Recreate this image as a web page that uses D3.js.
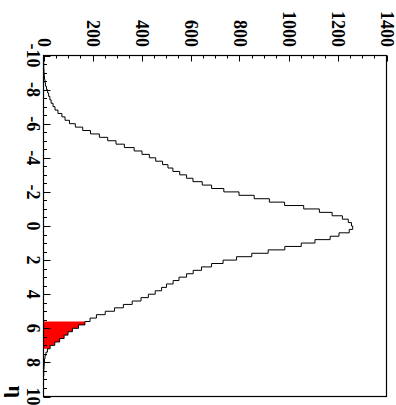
<!DOCTYPE html>
<html>
<head>
<meta charset="utf-8">
<script src="https://cdn.jsdelivr.net/npm/d3@7"></script>
<style>
  body { margin: 0; background: #fff; }
  svg { display: block; }
  text { font-family: "Liberation Serif", "Times New Roman", serif; font-weight: bold; }
</style>
</head>
<body>
<div id="chart"></div>
<script>
// eta histogram, 100 bins from -10 to 10
const etaMin = -10;
const etaMax = 10;
const counts = [
  0, 0, 1, 1, 2, 3, 4, 6, 8, 12,
  17, 21, 26, 31, 39, 47, 59, 75, 88, 106,
  130, 160, 192, 228, 262, 296, 330, 370, 402, 432,
  458, 486, 508, 528, 556, 584, 610, 648, 686, 736,
  798, 860, 922, 984, 1062, 1126, 1178, 1220, 1244, 1257,
  1262, 1248, 1206, 1170, 1108, 1052, 985, 917, 850, 788,
  733, 686, 645, 611, 584, 553, 529, 502, 482, 456,
  428, 398, 362, 326, 290, 252, 216, 190, 169, 143,
  118, 100, 84, 66, 46, 27, 16, 10, 6, 4,
  3, 2, 1, 1, 0, 0, 0, 0, 0, 0
];
// selected region (red), starting at eta = 5.6
const selectedStart = 5.6;
const selectedCounts = [169, 143, 118, 100, 84, 66, 46, 27];

const countTicks = [0, 200, 400, 600, 800, 1000, 1200, 1400];
const etaTicks = [-10, -8, -6, -4, -2, 0, 2, 4, 6, 8, 10];
const axisTitle = "η";

const W = 396, H = 405;
const frame = { left: 43.5, right: 386.5, top: 55.5, bottom: 396.5 };

const svg = d3.select("#chart").append("svg")
    .attr("width", W).attr("height", H);

// chart is drawn rotated: counts run left->right, eta runs top->bottom
const x = d3.scaleLinear().domain([0, 1400]).range([frame.left, frame.right]);
const y = d3.scaleLinear().domain([etaMin, etaMax]).range([frame.top, frame.bottom]);

const binWidth = (etaMax - etaMin) / counts.length;

function stepPoints(vals, start) {
    const pts = [];
    vals.forEach((c, i) => {
        const lo = start + i * binWidth;
        pts.push([c, lo], [c, lo + binWidth]);
    });
    return pts;
}

// red filled selection
const selPts = stepPoints(selectedCounts, selectedStart);
const area = d3.area()
    .y(d => y(d[1]))
    .x0(x(0))
    .x1(d => x(d[0]));
svg.append("path")
    .attr("d", area(selPts))
    .attr("fill", "#ff0000")
    .attr("stroke", "none");

// main histogram outline
const pts = stepPoints(counts, etaMin);
const line = d3.line().x(d => x(d[0])).y(d => y(d[1]));
svg.append("path")
    .attr("d", line(pts))
    .attr("fill", "none")
    .attr("stroke", "#000")
    .attr("stroke-width", 1);

// frame
svg.append("rect")
    .attr("x", frame.left).attr("y", frame.top)
    .attr("width", frame.right - frame.left)
    .attr("height", frame.bottom - frame.top)
    .attr("fill", "none").attr("stroke", "#000").attr("stroke-width", 1.2);

// count axis ticks (top edge, pointing down)
const ticksG = svg.append("g").attr("stroke", "#000").attr("stroke-width", 1);
d3.range(0, 1401, 50).forEach(v => {
    const major = v % 200 === 0;
    const px = Math.round(x(v)) + 0.5;
    ticksG.append("line")
        .attr("x1", px).attr("x2", px)
        .attr("y1", frame.top).attr("y2", frame.top + (major ? 6 : 3));
});
// eta axis ticks (left edge, pointing right)
d3.range(-10, 10.01, 0.5).forEach(v => {
    const major = Math.abs(v % 2) < 1e-9;
    const py = Math.round(y(v)) + 0.5;
    ticksG.append("line")
        .attr("y1", py).attr("y2", py)
        .attr("x1", frame.left).attr("x2", frame.left + (major ? 7 : 3.5));
});

// count labels, rotated clockwise
svg.append("g").selectAll("text")
    .data(countTicks)
    .enter().append("text")
    .attr("transform", d => `translate(${x(d) - 6},47) rotate(90)`)
    .attr("text-anchor", "end")
    .attr("font-size", 18)
    .text(d => d);

// eta labels, rotated clockwise
svg.append("g").selectAll("text")
    .data(etaTicks)
    .enter().append("text")
    .attr("transform", d => `translate(27,${y(d)}) rotate(90)`)
    .attr("text-anchor", "middle")
    .attr("font-size", 18)
    .text(d => d);

// axis title
svg.append("text")
    .attr("transform", `translate(9,398) rotate(90)`)
    .attr("text-anchor", "end")
    .attr("font-size", 22)
    .attr("font-weight", "normal")
    .text(axisTitle);
</script>
</body>
</html>
